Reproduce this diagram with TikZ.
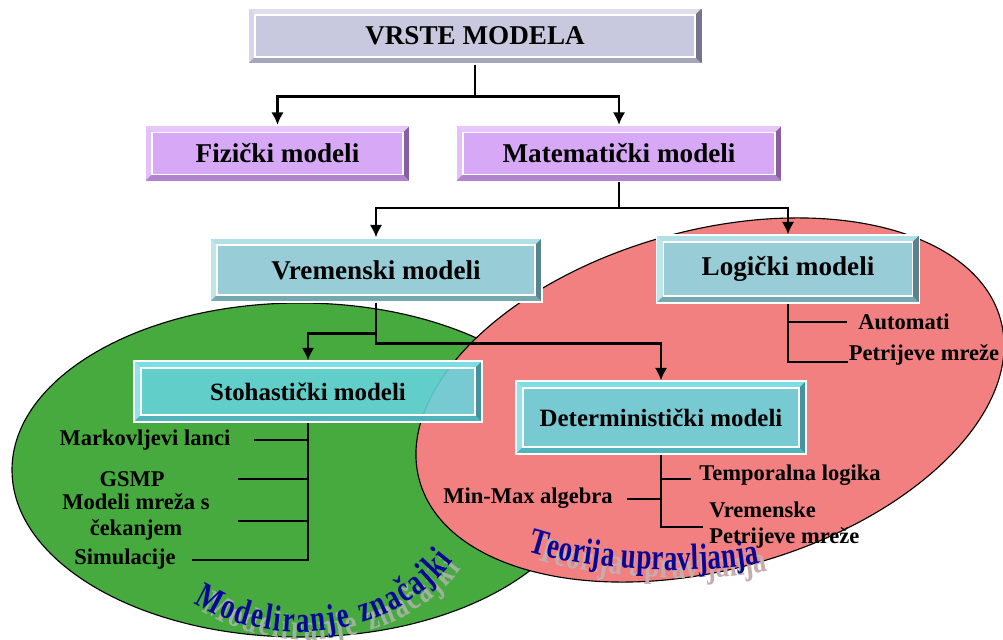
\documentclass[tikz,border=0pt]{standalone}
\usepackage{fontspec}
\setmainfont{Liberation Serif}
\newfontfamily\wafont{Liberation Serif}[FakeStretch=0.74]
\usetikzlibrary{positioning}
\usetikzlibrary{arrows.meta}
\usetikzlibrary{decorations.text}
\definecolor{grface}{RGB}{200,200,222}
\definecolor{grtop}{RGB}{222,222,236}
\definecolor{grleft}{RGB}{214,214,232}
\definecolor{grbot}{RGB}{165,165,190}
\definecolor{grright}{RGB}{118,116,142}
\definecolor{pface}{RGB}{214,168,245}
\definecolor{ptop}{RGB}{230,198,252}
\definecolor{pleft}{RGB}{226,192,250}
\definecolor{pbot}{RGB}{176,132,206}
\definecolor{pright}{RGB}{134,96,160}
\definecolor{bface}{RGB}{152,205,216}
\definecolor{btop}{RGB}{178,222,230}
\definecolor{bleft}{RGB}{192,230,236}
\definecolor{bbot}{RGB}{118,168,178}
\definecolor{bright}{RGB}{88,132,142}
\definecolor{cface}{RGB}{102,212,222}
\definecolor{ctop}{RGB}{128,224,230}
\definecolor{cleft}{RGB}{150,232,238}
\definecolor{cbot}{RGB}{76,176,186}
\definecolor{cright}{RGB}{62,140,150}
\definecolor{ellg}{RGB}{70,170,62}
\definecolor{ellr}{RGB}{242,128,128}
\definecolor{wablue}{RGB}{8,8,150}
\definecolor{shadg}{RGB}{160,178,158}
\definecolor{shadr}{RGB}{198,172,174}
\tikzset{
    bevel/.style n args={5}{rectangle, draw=white, line width=0.8pt, fill=#1,
      path picture={
        \coordinate (bnw) at (path picture bounding box.north west);
        \coordinate (bne) at (path picture bounding box.north east);
        \coordinate (bsw) at (path picture bounding box.south west);
        \coordinate (bse) at (path picture bounding box.south east);
        \fill[#2] (bnw) -- (bne) -- ([shift={(-5pt,-5pt)}]bne) -- ([shift={(5pt,-5pt)}]bnw) -- cycle;
        \fill[#3] (bnw) -- (bsw) -- ([shift={(5pt,5pt)}]bsw) -- ([shift={(5pt,-5pt)}]bnw) -- cycle;
        \fill[#4] (bsw) -- (bse) -- ([shift={(-5pt,5pt)}]bse) -- ([shift={(5pt,5pt)}]bsw) -- cycle;
        \fill[#5] (bne) -- (bse) -- ([shift={(-5pt,5pt)}]bse) -- ([shift={(-5pt,-5pt)}]bne) -- cycle;
        \draw[white, line width=0.8pt] ([shift={(5pt,-5pt)}]bnw) rectangle ([shift={(-5pt,5pt)}]bse);
      }},
    boxg/.style = {bevel={grface}{grtop}{grleft}{grbot}{grright}, font=\fontsize{19.3}{23}\selectfont\bfseries},
    boxp/.style = {bevel={pface}{ptop}{pleft}{pbot}{pright}, font=\fontsize{19.3}{23}\selectfont\bfseries},
    boxb/.style = {bevel={bface}{btop}{bleft}{bbot}{bright}, font=\fontsize{19.3}{23}\selectfont\bfseries},
    boxc/.style = {bevel={cface}{ctop}{cleft}{cbot}{cright}, fill opacity=0.88, text opacity=1, font=\fontsize{17.7}{21}\selectfont\bfseries},
    lbl/.style = {font=\fontsize{16}{18.5}\selectfont\bfseries, align=center, inner sep=0pt},
    ellgreen/.style = {fill=ellg, draw=black, line width=0.8pt},
    ellred/.style = {fill=ellr, draw=black, line width=0.8pt},
    curvtext/.style 2 args = {decorate, decoration={text along path, text align=fit to path,
      text={|\wafont\fontsize{26}{30}\selectfont\bfseries\color{#1}|#2}}},
    edgea/.style = {-{Latex[length=9pt,width=9pt]}, line width=2pt},
    edgel/.style = {line width=1.4pt},
}

\begin{document}
\begin{tikzpicture}[x=0.025cm, y=0.025cm]
\useasboundingbox (0,0) rectangle (1003,639);

% ellipses
\draw[ellgreen] (300,169) ellipse [x radius=288, y radius=167];
\draw[ellred, rotate around={15.5:(710,239)}] (710,239) ellipse [x radius=301.5, y radius=169.4];

% curved captions with shadow
\path[curvtext={shadg}{Modeliranje značajki}, shift={(8,-8)}] (193.9,36.3) arc[start angle=235, end angle=326, x radius=185, y radius=162];
\path[curvtext={wablue}{Modeliranje značajki}] (193.9,36.3) arc[start angle=235, end angle=326, x radius=185, y radius=162];
\path[curvtext={shadr}{Teorija upravljanja}, shift={(8,-8)}] (528,88) .. controls (580,70) and (690,62) .. (760,76);
\path[curvtext={wablue}{Teorija upravljanja}] (528,88) .. controls (580,70) and (690,62) .. (760,76);

\node[boxg, minimum width=11.35cm, minimum height=1.4cm] at (475, 603) (vrste) {VRSTE MODELA};
\node[boxp, minimum width=6.625cm, minimum height=1.4cm] at (277.5, 485.5) (fiz) {Fizički modeli};
\node[boxp, minimum width=8.15cm, minimum height=1.4cm] at (619, 485.5) (mat) {Matematički modeli};
\node[boxb, minimum width=8.3cm, minimum height=1.6cm] at (376, 369) (vrem) {Vremenski modeli};
\node[boxb, minimum width=6.575cm, minimum height=1.7cm] at (788, 370) (log) {Logički modeli};
\node[boxc, minimum width=8.7cm, minimum height=1.525cm] at (308, 247.5) (stoh) {Stohastički modeli};
\node[boxc, minimum width=7.25cm, minimum height=1.825cm] at (661, 221.5) (det) {Deterministički modeli};
%
\draw[edgea] (vrste.south) -- ++(0,-32) -| (fiz.north);
\draw[edgea] (vrste.south) -- ++(0,-32) -| (mat.north);
\draw[edgea] (mat.south) -- ++(0,-26) -| (vrem.north);
\draw[edgea] (mat.south) -- ++(0,-26) -| (log.north);
\draw[edgea] (vrem.south) -- ++(0,-31) -| (stoh.north);
\draw[edgea] (vrem.south) -- ++(0,-41) -| (det.north);

% stohasticki
\node[lbl] at (145, 199) (markov) {Markovljevi lanci};
\node[lbl] at (132, 160) (gsmp) {GSMP};
\node[lbl] at (136, 122) (mreze) {Modeli mreža s\\čekanjem};
\node[lbl] at (125, 80) (simul) {Simulacije};
\coordinate (mk) at (254, 199);
\coordinate (gs) at (238, 160);
\coordinate (mr) at (238, 118);
\coordinate (sm) at (192, 79);
\draw[edgel] (stoh.south) |- (sm);
\draw[edgel] (mk) -- (mk -| stoh.south);
\draw[edgel] (gs) -- (gs -| stoh.south);
\draw[edgel] (mr) -- (mr -| stoh.south);

% deterministicki
\node[lbl] at (790, 164) (templ) {Temporalna logika};
\node[lbl] at (528, 141) (minmax) {Min-Max algebra};
\node[lbl, anchor=west, align=left] at (709, 113.5) (vpetri) {Vremenske\\Petrijeve mreže};
\coordinate (tl) at (691, 160);
\coordinate (mm) at (627, 140);
\coordinate (vp) at (703, 112);
\draw[edgel] (det.south) |- (vp);
\draw[edgel] (det.south |- tl) -- (tl);
\draw[edgel] (mm) -- (mm -| det.south);

% logicki
\node[lbl] at (904, 317) (autom) {Automati};
\node[lbl] at (924, 284) (lpetri) {Petrijeve mreže};
\coordinate (au) at (847, 317);
\coordinate (pm) at (848, 277);
\draw[edgel] (log.south) |- (pm);
\draw[edgel] (log.south |- au) -- (au);

\end{tikzpicture}
\end{document}
